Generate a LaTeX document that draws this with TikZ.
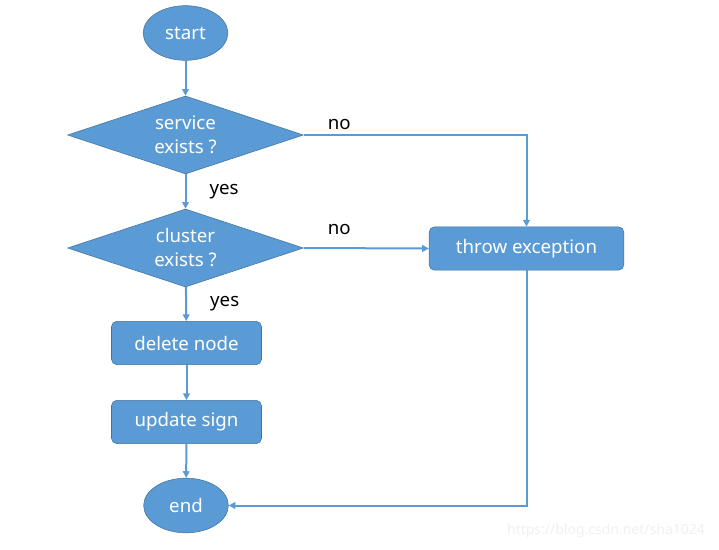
\documentclass[tikz,border=0pt]{standalone}
\usepackage{fontspec}
\setmainfont{Noto Sans}
\usetikzlibrary{shapes.geometric,arrows.meta}
\definecolor{flowblue}{HTML}{5B9BD5}
\definecolor{flowedge}{HTML}{41719C}

\begin{document}
\begin{tikzpicture}[x=0.75pt,y=-0.75pt,
    every node/.style={font=\fontsize{14}{18}\selectfont},
    term/.style={ellipse,draw=flowedge,fill=flowblue,text=white,inner sep=0pt,
        minimum width=63.5pt,minimum height=41pt},
    decide/.style={diamond,aspect=3,draw=flowedge,fill=flowblue,text=white,inner sep=0pt,
        align=center,minimum width=177pt,minimum height=58.5pt},
    proc/.style={rectangle,rounded corners=4pt,draw=flowedge,fill=flowblue,text=white,
        minimum width=112.5pt,minimum height=32.5pt},
    flow/.style={flowblue,line width=1.5pt,-{Triangle[width=5pt,length=5pt]}},
    lbl/.style={text=black}]
    \useasboundingbox (0,0) rectangle (719,550);

    \node[term] (start) at (185.5,33) {start};
    \node[decide] (svc) at (185.5,135) {service\\exists ?};
    \node[decide] (clu) at (185.5,248) {cluster\\exists ?};
    \node[proc] (del) at (186.5,343) {delete node};
    \node[proc] (upd) at (186.5,422) {update sign};
    \node[term] (end) at (186,505.5) {end};
    \node[proc,minimum width=146pt] (throw) at (526.5,248.5) {throw exception};

    \draw[flow] (start) -- (svc);
    \draw[flow] (svc) -- node[lbl,right=14pt]{yes} (clu);
    \draw[flow] (clu) -- node[lbl,right=14pt]{yes} (del);
    \draw[flow] (del) -- (upd);
    \draw[flow] (upd) -- (end);
    \draw[flow] (svc.east) -| node[lbl,pos=0,anchor=south west,xshift=14pt,yshift=0pt]{no} (throw.north);
    \draw[flow] (clu.east) -- node[lbl,pos=0,anchor=south west,xshift=14pt,yshift=6pt]{no} (throw.west);
    \draw[flow] (throw.south) |- (end.east);

%   watermark
    \node[text=black!6,font=\fontsize{10.5}{12}\selectfont] (mark) at (606,531) {https://blog.csdn.net/sha1024};
\end{tikzpicture}
\end{document}
